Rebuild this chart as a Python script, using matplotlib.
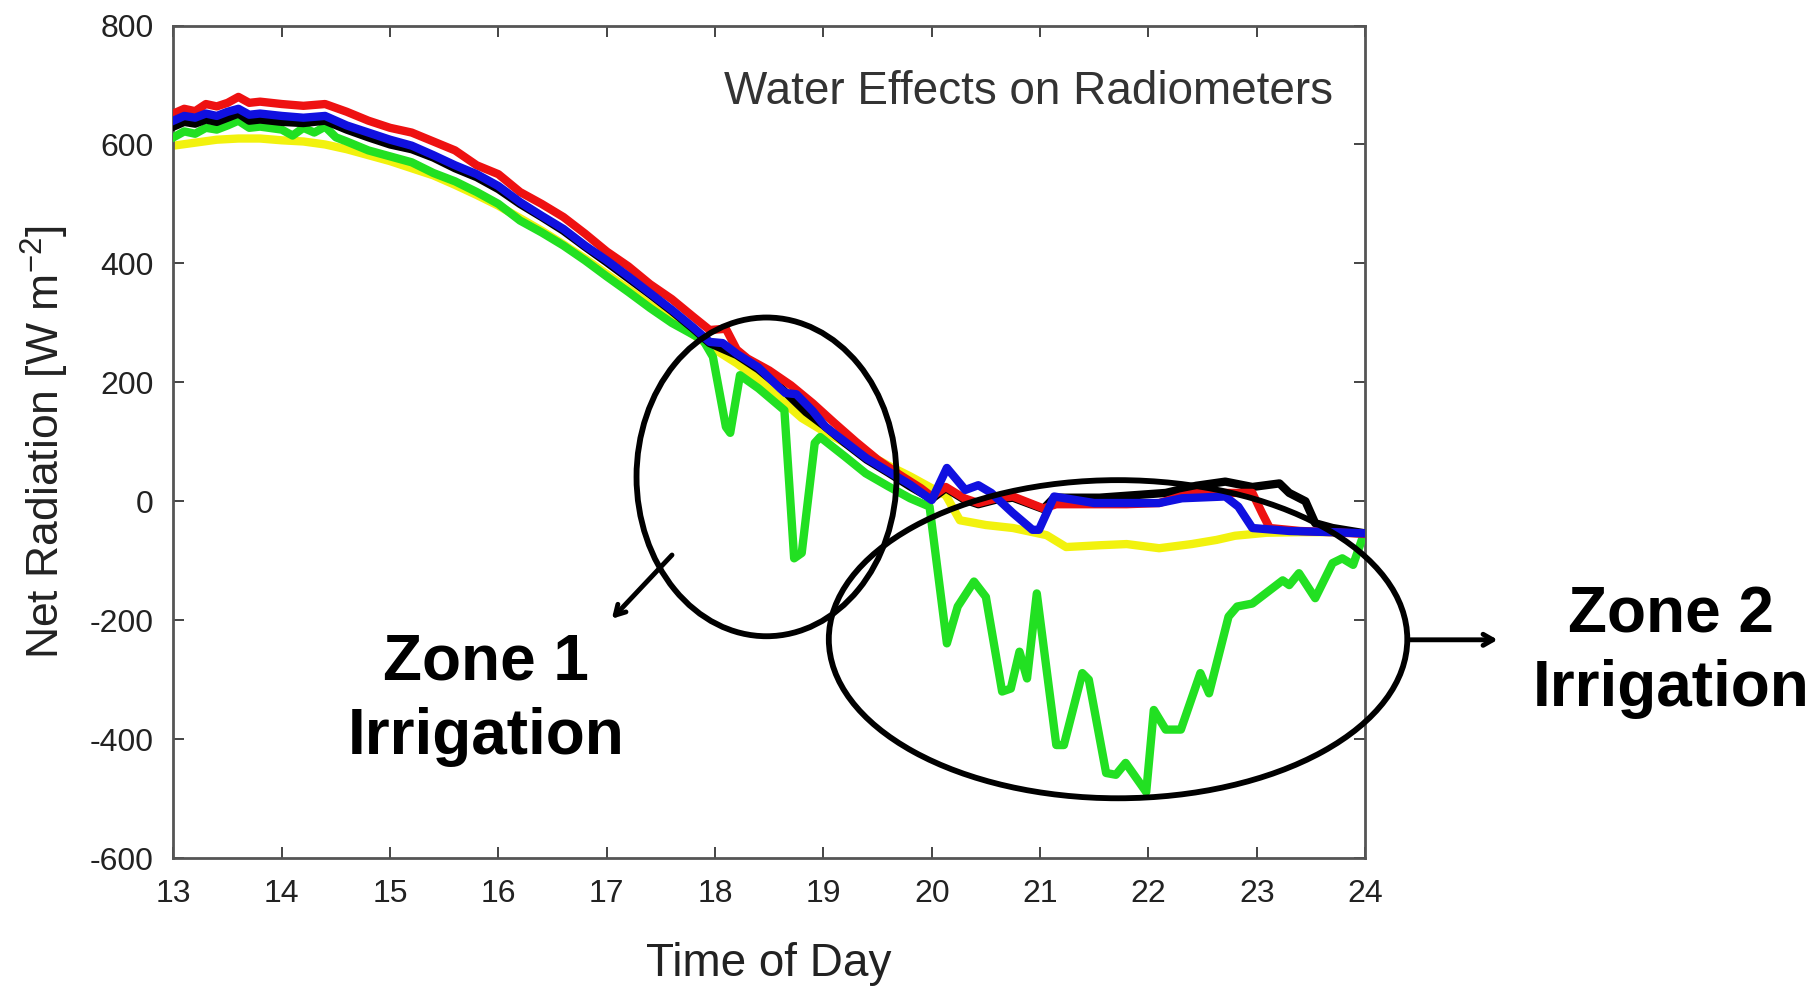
import matplotlib
matplotlib.use("Agg")
import matplotlib.pyplot as plt
from matplotlib.patches import Ellipse
from matplotlib import font_manager

# ---------------- data ----------------
red_t = [13.0, 13.1, 13.2, 13.3, 13.4, 13.5, 13.6, 13.7, 13.8, 14.0, 14.2, 14.4, 14.6, 14.8,
         15.0, 15.2, 15.4, 15.6, 15.8, 16.0, 16.2, 16.4, 16.6, 16.8, 17.0, 17.2, 17.4, 17.6,
         17.8, 17.95, 18.1, 18.2, 18.3, 18.5, 18.7, 18.9, 19.1, 19.3, 19.5, 19.7, 19.9, 20.0,
         20.13, 20.3, 20.43, 20.6, 20.75, 21.03, 21.15, 21.5, 21.8, 22.1, 22.3, 22.47, 22.96,
         23.05, 23.12, 23.4, 23.7, 24.0]
red_v = [652, 660, 656, 668, 664, 670, 680, 670, 672, 668, 665, 668, 655, 640,
         628, 620, 605, 590, 565, 550, 520, 500, 478, 450, 420, 395, 365, 340,
         310, 288, 290, 255, 240, 220, 195, 165, 132, 100, 70, 45, 22, 8,
         24, 5, -3, 5, 8, -12, -5, -5, -5, -3, 8, 14, 14,
         -20, -45, -50, -52, -55]

blue_t = [13.0, 13.1, 13.2, 13.3, 13.4, 13.5, 13.6, 13.7, 13.8, 14.0, 14.2, 14.4, 14.6, 14.8,
          15.0, 15.2, 15.4, 15.6, 15.8, 16.0, 16.2, 16.4, 16.6, 16.8, 17.0, 17.2, 17.4, 17.6,
          17.8, 17.95, 18.07, 18.2, 18.4, 18.6, 18.65, 18.75, 18.9, 19.02, 19.2, 19.4, 19.6,
          19.8, 20.0, 20.14, 20.31, 20.43, 20.55, 20.75, 20.93, 20.99, 21.13, 21.5, 21.82,
          22.1, 22.31, 22.71, 22.83, 22.96, 23.3, 23.7, 24.0]
blue_v = [640, 648, 645, 652, 648, 655, 660, 650, 652, 648, 645, 648, 632, 620,
          608, 598, 582, 565, 550, 530, 503, 480, 458, 430, 405, 378, 350, 322,
          292, 268, 266, 248, 225, 190, 182, 180, 152, 125, 100, 72, 50,
          28, 2, 56, 19, 27, 14, -20, -48, -48, 8, -3, -3,
          -3, 5, 8, -9, -45, -50, -52, -54]

black_t = [13.0, 13.1, 13.2, 13.3, 13.4, 13.5, 13.6, 13.7, 13.8, 14.0, 14.2, 14.4, 14.6, 14.8,
           15.0, 15.2, 15.4, 15.6, 15.8, 16.0, 16.2, 16.4, 16.6, 16.8, 17.0, 17.2, 17.4, 17.6,
           17.8, 17.95, 18.2, 18.4, 18.6, 18.84, 19.0, 19.2, 19.4, 19.6, 19.8, 20.0, 20.13,
           20.3, 20.43, 20.6, 20.75, 21.03, 21.13, 21.55, 22.16, 22.44, 22.71, 22.96, 23.21,
           23.3, 23.45, 23.54, 23.7, 24.0]
black_v = [630, 638, 635, 642, 638, 645, 652, 640, 642, 638, 636, 640, 625, 612,
           600, 592, 578, 560, 545, 525, 500, 478, 455, 428, 402, 375, 348, 320,
           290, 266, 246, 222, 192, 150, 128, 98, 70, 48, 25, 4, 22,
           3, -5, 3, 6, -13, 6, 6, 14, 26, 33, 24, 30,
           14, 0, -37, -45, -54]

green_t = [13.0, 13.1, 13.2, 13.3, 13.4, 13.5, 13.6, 13.7, 13.8, 14.0, 14.1, 14.2, 14.3, 14.4,
           14.5, 14.6, 14.8, 15.0, 15.2, 15.4, 15.6, 15.8, 16.0, 16.2, 16.4, 16.6, 16.8, 17.0,
           17.2, 17.4, 17.6, 17.8, 17.89, 17.98, 18.1, 18.14, 18.23, 18.4, 18.64, 18.73, 18.8,
           18.92, 18.97, 19.2, 19.39, 19.6, 19.8, 19.98, 20.14, 20.24, 20.39, 20.5, 20.65,
           20.73, 20.81, 20.88, 20.97, 21.15, 21.22, 21.39, 21.45, 21.61, 21.7, 21.79, 21.98,
           22.05, 22.16, 22.3, 22.48, 22.56, 22.74, 22.82, 22.96, 23.24, 23.3, 23.39, 23.54,
           23.7, 23.79, 23.89, 23.97, 24.0]
green_v = [612, 622, 618, 628, 625, 632, 640, 628, 630, 625, 615, 628, 620, 630,
           612, 605, 590, 580, 570, 552, 538, 520, 500, 472, 452, 430, 405, 378,
           352, 325, 300, 280, 271, 243, 125, 115, 212, 190, 153, -96, -87,
           98, 108, 75, 47, 25, 5, -9, -239, -177, -135, -161, -320,
           -315, -253, -298, -155, -410, -410, -289, -300, -457, -460, -440, -489,
           -351, -384, -384, -289, -323, -194, -177, -172, -133, -141, -121, -163,
           -104, -96, -107, -65, -60]

yellow_t = [13.0, 13.2, 13.4, 13.6, 13.8, 14.0, 14.2, 14.4, 14.6, 14.8, 15.0, 15.2, 15.4,
            15.6, 15.8, 16.0, 16.2, 16.4, 16.6, 16.8, 17.0, 17.2, 17.4, 17.6, 17.8, 18.0,
            18.2, 18.4, 18.6, 18.8, 19.0, 19.2, 19.4, 19.6, 19.8, 20.0, 20.13, 20.26, 20.5,
            20.75, 21.06, 21.24, 21.55, 21.8, 22.1, 22.4, 22.63, 22.8, 23.09, 23.4, 23.7, 24.0]
yellow_v = [598, 603, 608, 610, 610, 607, 605, 600, 592, 582, 572, 560, 548,
            532, 515, 497, 476, 455, 432, 408, 382, 357, 330, 305, 280, 255,
            232, 205, 172, 140, 118, 98, 80, 60, 42, 22, 10, -32, -40,
            -45, -57, -77, -74, -72, -79, -72, -65, -58, -53, -52, -52, -54]

x_ticks = list(range(13, 25))
y_ticks = list(range(-600, 801, 200))
title_text = "Water Effects on Radiometers"
x_label = "Time of Day"
y_label = "Net Radiation [W m$^{-2}$]"
zone1_text = "Zone 1\nIrrigation"
zone2_text = "Zone 2\nIrrigation"

# ---------------- fonts ----------------
names = {f.name for f in font_manager.fontManager.ttflist}
sans = "Liberation Sans" if "Liberation Sans" in names else "DejaVu Sans"
plt.rcParams["mathtext.fontset"] = "custom"
plt.rcParams["mathtext.rm"] = sans
plt.rcParams["mathtext.it"] = sans

fig = plt.figure(figsize=(18.14, 9.9), dpi=100)
ax = fig.add_axes([0.0956, 0.1333, 0.6569, 0.8409])

LW = 6.0
ax.plot(yellow_t, yellow_v, color="#f2f20e", lw=LW, zorder=2)
ax.plot(green_t, green_v, color="#22e022", lw=LW, zorder=3)
ax.plot(black_t, black_v, color="#000000", lw=LW, zorder=3.5)
ax.plot(red_t, red_v, color="#ee1111", lw=LW, zorder=4)
ax.plot(blue_t, blue_v, color="#1010e0", lw=LW, zorder=5)

ax.set_xlim(13, 24)
ax.set_ylim(-600, 800)
ax.set_xticks(x_ticks)
ax.set_yticks(y_ticks)
ax.set_xticklabels([str(t) for t in x_ticks], fontfamily=sans, fontsize=23, color="#222222")
ax.set_yticklabels([str(t) for t in y_ticks], fontfamily=sans, fontsize=23, color="#222222")
ax.tick_params(direction="in", length=8, width=1.4, color="#444444",
               top=True, right=True, pad=14)
ax.tick_params(axis="x", pad=15)
for s in ax.spines.values():
    s.set_color("#555555")
    s.set_linewidth(2)

ax.set_xlabel(x_label, fontfamily=sans, fontsize=33, color="#222222", labelpad=24)
ax.set_ylabel(y_label, fontfamily=sans, fontsize=32, color="#222222", labelpad=14)

ax.text(0.973, 0.92, title_text, transform=ax.transAxes, ha="right", va="center",
        fontfamily=sans, fontsize=33, color="#333333")

# annotations
e1 = Ellipse((18.475, 41), 2.40, 536, fill=False, lw=4.2, edgecolor="black",
             zorder=6, clip_on=False)
e2 = Ellipse((21.72, -232), 5.34, 535, fill=False, lw=4.2, edgecolor="black",
             zorder=6, clip_on=False)
ax.add_patch(e1)
ax.add_patch(e2)
ax.annotate("", xy=(17.03, -201), xytext=(17.62, -87),
            arrowprops=dict(arrowstyle="->,head_length=0.7,head_width=0.4", lw=3.5, color="black"),
            annotation_clip=False)
ax.annotate("", xy=(25.25, -233), xytext=(24.39, -233),
            arrowprops=dict(arrowstyle="->,head_length=0.7,head_width=0.4", lw=3.5, color="black"),
            annotation_clip=False)

fig.text(0.268, 0.293, zone1_text, ha="center", va="center", fontfamily=sans,
         fontweight="bold", fontsize=46, linespacing=1.3)
fig.text(0.921, 0.341, zone2_text, ha="center", va="center", fontfamily=sans,
         fontweight="bold", fontsize=46, linespacing=1.3)

fig.savefig("out.png", dpi=100)
